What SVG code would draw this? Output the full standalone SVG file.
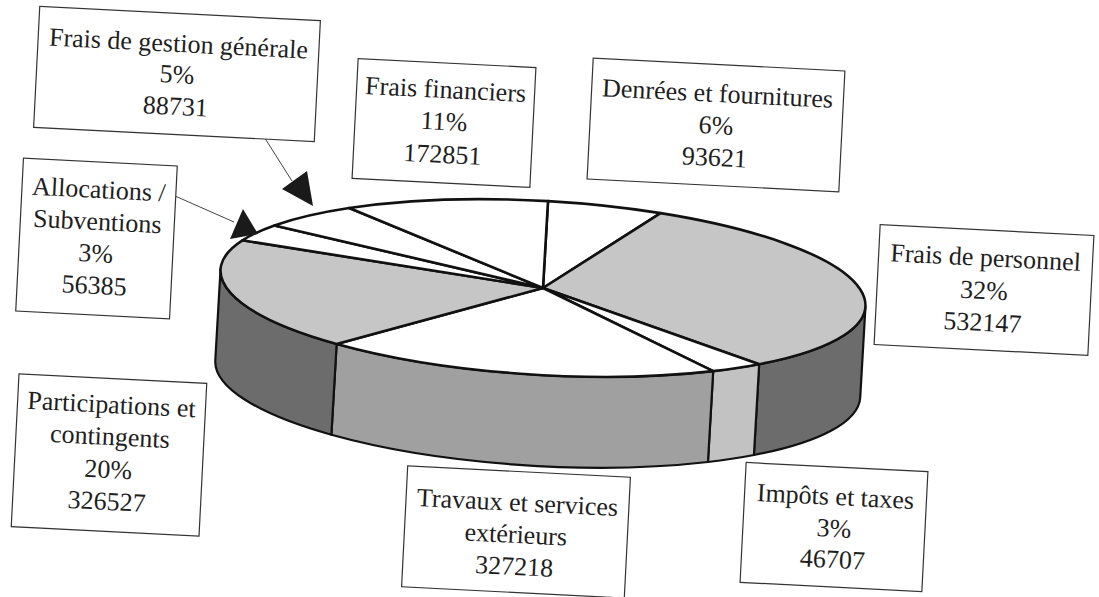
<svg xmlns="http://www.w3.org/2000/svg" width="1099" height="597" viewBox="0 0 1099 597">
<style>
.box{fill:#fff;stroke:#333;stroke-width:1.2}
.t{font-family:"Liberation Serif","Times New Roman",serif;font-size:26px;fill:#1e1e1e;text-anchor:middle}
.top{stroke:#111;stroke-width:2.6;stroke-linejoin:round}
.side{stroke:#111;stroke-width:2.2;stroke-linejoin:round}
.conn{stroke:#444;stroke-width:1;fill:none}
.head{fill:#1a1a1a}
</style>
<rect width="1099" height="597" fill="#fff"/>
<g id="pie" transform="rotate(3.3 543 288)">
  <path class="side" fill="#6c6c6c" d="M866,288 A323,87 0 0 1 763.2,351.6 L763.2,442.6 A323,87 0 0 0 866,379 Z"/>
  <path class="side" fill="#c2c2c2" d="M763.2,351.6 A323,87 0 0 1 717.7,361.2 L717.7,452.2 A323,87 0 0 0 763.2,442.6 Z"/>
  <path class="side" fill="#a0a0a0" d="M717.7,361.2 A323,87 0 0 1 340.2,355.7 L340.2,446.7 A323,87 0 0 0 717.7,452.2 Z"/>
  <path class="side" fill="#6c6c6c" d="M340.2,355.7 A323,87 0 0 1 220,288 L220,379 A323,87 0 0 0 340.2,446.7 Z"/>
  <path class="top" fill="#fff" stroke-width="1.4" d="M543,288 L543,201 A323,87 0 0 1 656.1,206.5 Z"/>
  <path class="top" fill="#c6c6c6" d="M543,288 L656.1,206.5 A323,87 0 0 1 763.2,351.6 Z"/>
  <path class="top" fill="#fff" d="M543,288 L763.2,351.6 A323,87 0 0 1 717.7,361.2 Z"/>
  <path class="top" fill="#fff" d="M543,288 L717.7,361.2 A323,87 0 0 1 340.2,355.7 Z"/>
  <path class="top" fill="#c6c6c6" d="M543,288 L340.2,355.7 A323,87 0 0 1 240.2,257.7 Z"/>
  <path class="top" fill="#fff" d="M543,288 L240.2,257.7 A323,87 0 0 1 271.3,241 Z"/>
  <path class="top" fill="#fff" d="M543,288 L271.3,241 A323,87 0 0 1 344.9,219.3 Z"/>
  <path class="top" fill="#fff" d="M543,288 L344.9,219.3 A323,87 0 0 1 543,201 Z"/>
  <line x1="543" y1="288" x2="543" y2="201" stroke="#111" stroke-width="1.4"/>
</g>
<g id="connectors">
  <line class="conn" x1="254" y1="121" x2="292" y2="181"/>
  <polygon class="head" points="282,189 307,171 313,206"/>
  <line class="conn" x1="166" y1="192" x2="234" y2="222"/>
  <polygon class="head" points="243,209 230,239 258,234"/>
</g>
<g id="n-gestion" transform="rotate(2.9 177 74)">
  <rect class="box" x="36.5" y="13.5" width="281" height="121"/>
  <text class="t" x="177" y="52">Frais de gestion générale</text>
  <text class="t" x="177" y="83">5%</text>
  <text class="t" x="177" y="115">88731</text>
</g>
<g id="n-financiers" transform="rotate(2.9 444 123)">
  <rect class="box" x="355" y="63" width="178" height="120"/>
  <text class="t" x="444" y="98">Frais financiers</text>
  <text class="t" x="444" y="130">11%</text>
  <text class="t" x="444" y="163">172851</text>
</g>
<g id="n-denrees" transform="rotate(2.9 716 125)">
  <rect class="box" x="590" y="64.5" width="252" height="121"/>
  <text class="t" x="716" y="102">Denrées et fournitures</text>
  <text class="t" x="716" y="134">6%</text>
  <text class="t" x="716" y="166">93621</text>
</g>
<g id="n-personnel" transform="rotate(2.9 984 290)">
  <rect class="box" x="877" y="230" width="214" height="120"/>
  <text class="t" x="984" y="266">Frais de personnel</text>
  <text class="t" x="984" y="299">32%</text>
  <text class="t" x="984" y="331">532147</text>
</g>
<g id="n-allocations" transform="rotate(2.9 96.5 238.5)">
  <rect class="box" x="19.5" y="162" width="154" height="153"/>
  <text class="t" x="96.5" y="198">Allocations /</text>
  <text class="t" x="96.5" y="230">Subventions</text>
  <text class="t" x="96.5" y="262">3%</text>
  <text class="t" x="96.5" y="294">56385</text>
</g>
<g id="n-participations" transform="rotate(2.9 109 455)">
  <rect class="box" x="15" y="378.5" width="188" height="153"/>
  <text class="t" x="109" y="413">Participations et</text>
  <text class="t" x="109" y="445">contingents</text>
  <text class="t" x="109" y="478">20%</text>
  <text class="t" x="109" y="510">326527</text>
</g>
<g id="n-travaux" transform="rotate(2.9 516 532)">
  <rect class="box" x="404.5" y="471.5" width="223" height="121"/>
  <text class="t" x="516" y="511">Travaux et services</text>
  <text class="t" x="516" y="543">extérieurs</text>
  <text class="t" x="516" y="575">327218</text>
</g>
<g id="n-impots" transform="rotate(2.9 834 527)">
  <rect class="box" x="743" y="467" width="182" height="120"/>
  <text class="t" x="834" y="505">Impôts et taxes</text>
  <text class="t" x="834" y="537">3%</text>
  <text class="t" x="834" y="568">46707</text>
</g>
</svg>
